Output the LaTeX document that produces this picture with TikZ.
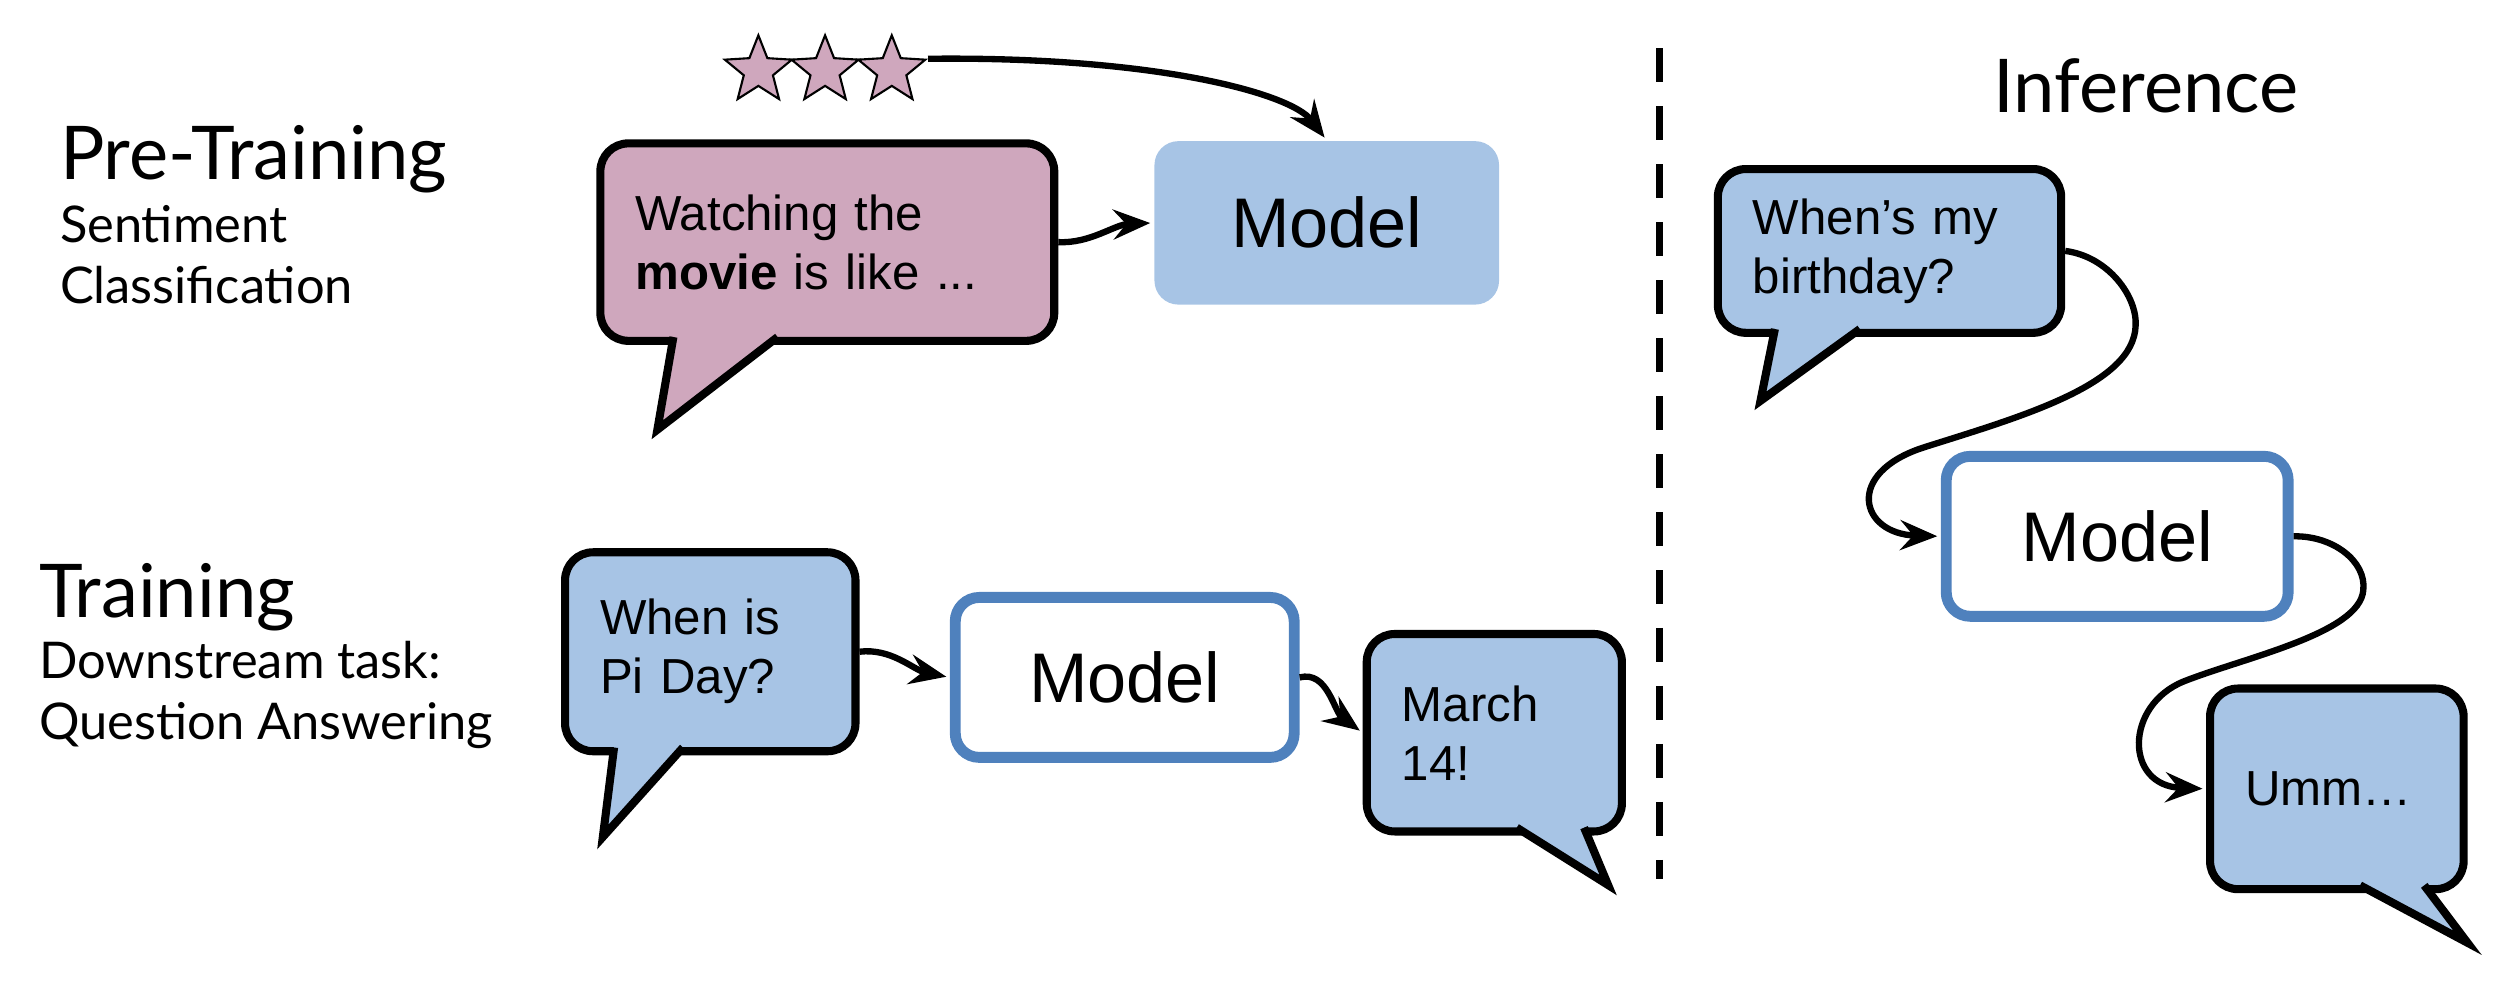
\documentclass[tikz,border=0pt]{standalone}
\usepackage{fontspec}
\setmainfont{Liberation Sans}
\newfontfamily\latofont{Lato}
\usetikzlibrary{shapes.geometric,arrows.meta,calc}
\definecolor{rose}{HTML}{CFA7BD}
\definecolor{ciel}{HTML}{A7C4E5}
\definecolor{bleu}{HTML}{4F81BD}

\begin{document}
\begin{tikzpicture}[x=0.01603cm, y=-0.01603cm,
  bulle/.style={draw=black, line width=2.3pt, rounded corners=0.28cm, inner xsep=0.35cm, inner ysep=0pt, align=left, font=\fontsize{14}{16.8}\selectfont},
  queue/.style={line width=2.3pt},
  modele/.style={rounded corners=0.24cm, minimum width=3.39cm, minimum height=1.6cm, font=\fontsize{20}{24}\selectfont},
  fleche/.style={line width=1.8pt, shorten >=1pt, -{Stealth[length=3.7mm, width=3mm, inset=1.3mm]}},
  titre/.style={font=\latofont\fontsize{21.1}{25}\selectfont, anchor=base west, inner sep=0},
  soustitre/.style={font=\latofont\fontsize{14.4}{17}\selectfont, anchor=base west, inner sep=0},
  etoile/.style={star, star points=5, star point ratio=2.3, minimum size=0.705cm, inner sep=0, fill=rose, draw=black, line width=0.6pt}]

\useasboundingbox (0,0) rectangle (1568,617.6);

% titles
\node[titre] (pretrain) at (37,112) {Pre-Training};
\node[soustitre] (sentiment) at (37,151) {Sentiment};
\node[soustitre] (classif) at (37,189) {Classification};
\node[titre] (train) at (24,385) {Training};
\node[soustitre] (downstream) at (24,423) {Downstream task:};
\node[soustitre] (qa) at (24,461) {Question Answering};
\node[titre] (inference) at (1243,70) {Inference};

% separator
\draw[line width=1.8pt, dash pattern=on 0.34cm off 0.24cm] (1035,30) -- (1035,548);

%% pre-training
\foreach \i/\x in {1/473,2/514.6,3/556.2}
  \node[etoile] (s\i) at (\x,44) {};
\node[modele, fill=ciel, minimum width=3.447cm, minimum height=1.635cm] (mpre) at (827.5,139) {Model};
\node[bulle, fill=rose, text width=3.84cm, minimum height=1.975cm] (film) at (516,151) {Watching the\\\textbf{movie} is like ...};
\coordinate (A1) at (420,212.6) ;
\coordinate (B1) at (485,212.6) ;
\coordinate (C1) at (410,268) ;
\fill[rose] ($(A1)+(0,-3)$) -- (C1) -- ($(B1)+(0,-3)$) -- cycle ;
\draw[queue] ($(A1)+(0,-2.4)$) -- (C1) -- ($(B1)+(0,-2.4)$) ;
\draw[fleche] (s3.outer point 5) .. controls (720,35) and (805,58) .. (mpre.north);
\draw[fleche] (film.east) .. controls (680,152) and (695,140) .. (mpre.west);

%% training
\node[bulle, fill=ciel, text width=2.205cm, minimum height=1.99cm] (pi) at (443,406.5) {When is\\Pi Day?};
\coordinate (A2) at (383,468.6) ;
\coordinate (B2) at (426,468.6) ;
\coordinate (C2) at (376,522) ;
\fill[ciel] ($(A2)+(0,-3)$) -- (C2) -- ($(B2)+(0,-3)$) -- cycle ;
\draw[queue] ($(A2)+(0,-2.4)$) -- (C2) -- ($(B2)+(0,-2.4)$) ;
\node[modele, draw=bleu, line width=3.1pt, fill=white] (mtrain) at (701.5,422.5) {Model};
\node[bulle, fill=ciel, text width=1.852cm, minimum height=1.975cm] (march) at (932,457) {March\\14!};
\coordinate (A3) at (946,518.6) ;
\coordinate (B3) at (988,518.6) ;
\coordinate (C3) at (1003,552) ;
\fill[ciel] ($(A3)+(0,-3)$) -- (C3) -- ($(B3)+(0,-3)$) -- cycle ;
\draw[queue] ($(A3)+(0,-2.4)$) -- (C3) -- ($(B3)+(0,-2.4)$) ;
\draw[fleche] (pi.east) .. controls (556,404) and (570,418) .. (mtrain.west);
\draw[fleche] (mtrain.east) .. controls (828,418) and (832,444) .. (march.west);

%% inference
\node[bulle, fill=ciel, text width=2.734cm, minimum height=1.638cm] (birth) at (1178.5,156.5) {When’s my\\birthday?};
\coordinate (A4) at (1107,207.6) ;
\coordinate (B4) at (1160,207.6) ;
\coordinate (C4) at (1098,250) ;
\fill[ciel] ($(A4)+(0,-3)$) -- (C4) -- ($(B4)+(0,-3)$) -- cycle ;
\draw[queue] ($(A4)+(0,-2.4)$) -- (C4) -- ($(B4)+(0,-2.4)$) ;
\node[modele, draw=bleu, line width=3.1pt, fill=white, minimum width=3.42cm] (minf) at (1320.5,334.5) {Model};
\node[bulle, fill=ciel, text width=1.836cm, minimum height=2.007cm] (umm) at (1457.5,492) {Umm…};
\coordinate (A5) at (1472,554.6) ;
\coordinate (B5) at (1512,554.6) ;
\coordinate (C5) at (1539,588) ;
\fill[ciel] ($(A5)+(0,-3)$) -- (C5) -- ($(B5)+(0,-3)$) -- cycle ;
\draw[queue] ($(A5)+(0,-2.4)$) -- (C5) -- ($(B5)+(0,-2.4)$) ;
\draw[fleche] (birth.east) .. controls (1315,160) and (1333,185) .. (1332,203)
  .. controls (1331,240) and (1260,260) .. (1200,279)
  .. controls (1150,295) and (1160,333) .. (minf.west);
\draw[fleche] (minf.east) .. controls (1455,334) and (1476,350) .. (1474,368)
  .. controls (1472,395) and (1400,410) .. (1362,425)
  .. controls (1325,440) and (1325,490) .. (umm.west);
\end{tikzpicture}
\end{document}
